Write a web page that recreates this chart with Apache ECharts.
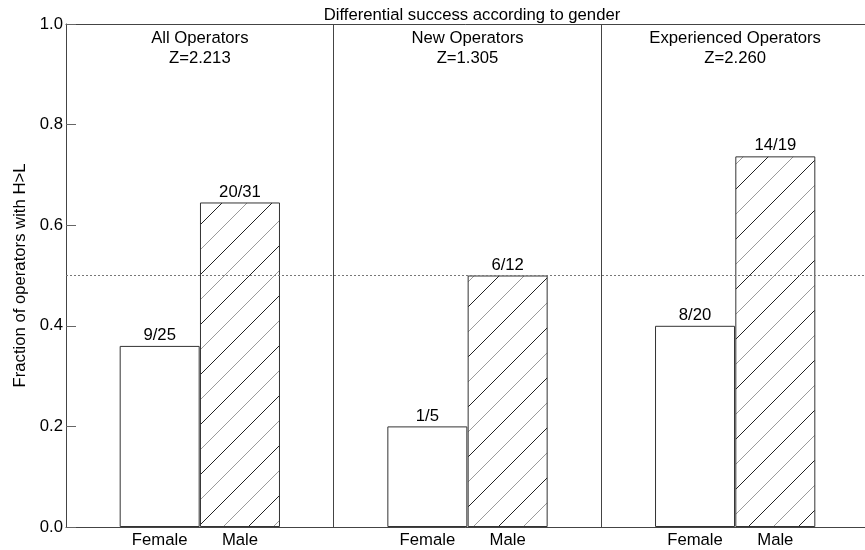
<!DOCTYPE html>
<html>
<head>
<meta charset="utf-8">
<script src="https://cdn.jsdelivr.net/npm/echarts@6/dist/echarts.min.js"></script>
<style>
  html, body { margin: 0; padding: 0; background: #fff; }
  #chart { width: 865px; height: 550px; }
</style>
</head>
<body>
<div id="chart"></div>
<script>
// Operator groups and their Z statistics
const groups = ['All Operators', 'New Operators', 'Experienced Operators'];
const zScores = ['2.213', '1.305', '2.260'];
// Successes (H>L) and group sizes per gender
const femaleHits = [9, 1, 8];
const femaleTotals = [25, 5, 20];
const maleHits = [20, 6, 14];
const maleTotals = [31, 12, 19];
const genderLabels = ['Female', 'Male'];
const chanceLevel = 0.5;

const FONT = "'Liberation Sans', Arial, Helvetica, sans-serif";
const FS = 16.7;
const AXIS_COLOR = '#444';
// bar centres within each group slot (slot i spans [i, i+1])
const SLOT_OFFSET = [0.35, 0.65];

// diagonal hatch tile for the male bars
function hatchTile() {
  const c = document.createElement('canvas');
  c.width = 50; c.height = 50;
  const ctx = c.getContext('2d');
  ctx.lineWidth = 1;
  [[0, '#9a9a9a'], [25, '#222'], [50, '#9a9a9a'], [75, '#222'], [100, '#9a9a9a']].forEach(([k, col]) => {
    ctx.strokeStyle = col;
    ctx.beginPath();
    ctx.moveTo(k + 3, -3);
    ctx.lineTo(-3, k + 3);
    ctx.stroke();
  });
  return c;
}
const hatchFill = { image: hatchTile(), repeat: 'repeat' };

const barData = [];
const genderAt = {};
groups.forEach((g, i) => {
  const fx = i + SLOT_OFFSET[0], mx = i + SLOT_OFFSET[1];
  genderAt[fx.toFixed(2)] = genderLabels[0];
  genderAt[mx.toFixed(2)] = genderLabels[1];
  barData.push({
    value: [fx, femaleHits[i] / femaleTotals[i]],
    frac: femaleHits[i] + '/' + femaleTotals[i],
    itemStyle: { color: '#fff' }
  });
  barData.push({
    value: [mx, maleHits[i] / maleTotals[i]],
    frac: maleHits[i] + '/' + maleTotals[i],
    itemStyle: { color: hatchFill }
  });
});

const chart = echarts.init(document.getElementById('chart'), null, { renderer: 'canvas' });
chart.setOption({
  animation: false,
  backgroundColor: '#fff',
  textStyle: { fontFamily: FONT },
  title: {
    text: 'Differential success according to gender',
    left: 467,
    top: 2,
    textAlign: 'center',
    textStyle: { fontFamily: FONT, fontSize: FS, fontWeight: 'normal', color: '#000' }
  },
  grid: { left: 66, right: -4, top: 24, bottom: 23, outerBoundsMode: 'none', containLabel: false },
  xAxis: [
    {
      type: 'value', min: 0, max: groups.length, interval: 1,
      axisLine: { show: true, onZero: false, lineStyle: { color: AXIS_COLOR, width: 1 } },
      axisTick: { show: false },
      splitLine: { show: true, lineStyle: { color: AXIS_COLOR, width: 1 } },
      axisLabel: {
        customValues: Object.keys(genderAt).map(Number),
        formatter: v => genderAt[v.toFixed(2)] || '',
        fontFamily: FONT, fontSize: FS, color: '#000', margin: 5
      }
    },
    {
      type: 'value', position: 'top', min: 0, max: groups.length,
      axisLine: { show: true, onZero: false, lineStyle: { color: AXIS_COLOR, width: 1 } },
      axisTick: { show: false },
      splitLine: { show: false },
      axisLabel: {
        inside: true,
        customValues: groups.map((g, i) => i + 0.5),
        formatter: v => groups[Math.floor(v)] + '\nZ=' + zScores[Math.floor(v)],
        fontFamily: FONT, fontSize: FS, color: '#000', lineHeight: 20, margin: 4,
        align: 'center'
      }
    }
  ],
  yAxis: {
    type: 'value', min: 0, max: 1, interval: 0.2,
    name: 'Fraction of operators with H>L',
    nameLocation: 'middle', nameGap: 36,
    nameTextStyle: { fontFamily: FONT, fontSize: FS, color: '#000' },
    axisLine: { show: true, lineStyle: { color: AXIS_COLOR, width: 1 } },
    axisTick: { show: true, inside: true, length: 10, lineStyle: { color: '#666' } },
    splitLine: { show: false },
    axisLabel: {
      formatter: v => v.toFixed(1),
      fontFamily: FONT, fontSize: FS, color: '#000', margin: 3
    }
  },
  series: [{
    type: 'bar',
    xAxisIndex: 0,
    data: barData,
    barWidth: 80,
    itemStyle: { borderColor: '#333', borderWidth: 1 },
    label: {
      show: true, position: 'top', distance: 2,
      formatter: p => p.data.frac,
      fontFamily: FONT, fontSize: FS, color: '#000'
    },
    markLine: {
      silent: true,
      symbol: ['none', 'none'],
      label: { show: false },
      lineStyle: { type: [2, 2], color: '#777', width: 1 },
      data: [{ yAxis: chanceLevel }]
    }
  }]
});
</script>
</body>
</html>
